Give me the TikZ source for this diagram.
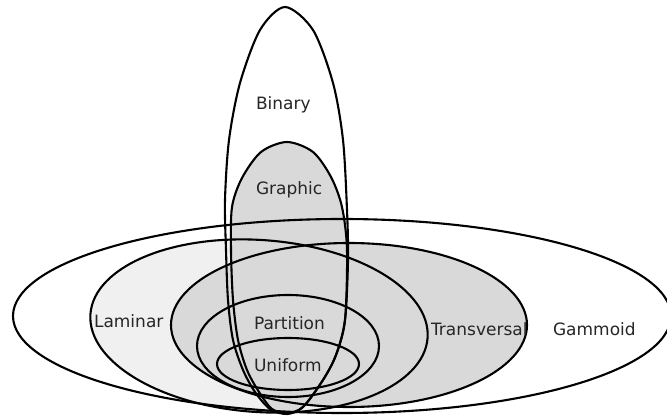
\documentclass[tikz,border=0pt]{standalone}
\usepackage{fontspec}
\usepackage{tikz}
\newfontfamily\labelfont{DejaVu Sans}

% outlines of the classes (pixel units, y pointing down)
\newcommand{\binarypath}{plot[smooth cycle] coordinates {(285,7) (313,30) (333,83) (343,140) (347,210) (348,260) (345,320) (336,355) (323,380) (303,407) (287,414) (270,409) (255,392) (243,370) (233,340) (228,300) (226,250) (225,200) (229,140) (240,83) (260,30)}}
\newcommand{\graphicpath}{plot[smooth cycle] coordinates {(287,142) (313,152) (331,177) (342,207) (347,250) (345,320) (336,355) (323,380) (303,407) (287,413) (272,409) (259,392) (247,370) (238,340) (233,300) (231,250) (232,207) (242,178) (261,152)}}
\newcommand{\gammoidpath}{(342,316) ellipse [x radius=329, y radius=97]}
\newcommand{\laminarpath}{[rotate around={-4:(259,326)}] (259,326) ellipse [x radius=169, y radius=86]}
\newcommand{\transpath}{(349,325) ellipse [x radius=178, y radius=82]}
\newcommand{\partitionpath}{(288,346) ellipse [x radius=91, y radius=51]}
\newcommand{\uniformpath}{(288,364) ellipse [x radius=71, y radius=26]}

\begin{document}
\begin{tikzpicture}[
  x=1pt, y=-1pt,
  line width=2.1pt,
  lbl/.style={font=\labelfont\fontsize{17}{20}\selectfont, text=black!85, anchor=base west, inner sep=0pt},
  lightfill/.style={fill=black!6},
  darkfill/.style={fill=black!15}
]
\useasboundingbox (0,0) rectangle (667,419);
\fill[white] (0,0) rectangle (667,419);

% fills
\fill[white] \binarypath;
\fill[white] \gammoidpath;
\fill[lightfill] \laminarpath;
\fill[darkfill] \transpath;
\fill[darkfill] \graphicpath;

% outlines
\draw \gammoidpath;
\draw \laminarpath;
\draw \transpath;
\draw \partitionpath;
\draw \uniformpath;
\draw \binarypath;
\draw \graphicpath;

% labels
\node[lbl] (binary) at (255,110) {Binary};
\node[lbl] (graphic) at (255,195) {Graphic};
\node[lbl] (laminar) at (93,328) {Laminar};
\node[lbl] (partition) at (253,330) {Partition};
\node[lbl] (uniform) at (253,372) {Uniform};
\node[lbl] (transversal) at (430,336) {Transversal};
\node[lbl] (gammoid) at (552,336) {Gammoid};
\end{tikzpicture}
\end{document}
